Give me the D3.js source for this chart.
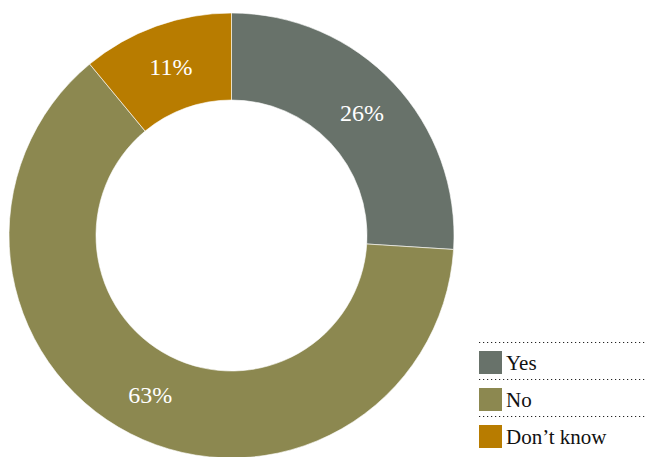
<!DOCTYPE html>
<html>
<head>
<meta charset="utf-8">
<script src="https://cdn.jsdelivr.net/npm/d3@7"></script>
<style>
  html, body { margin: 0; padding: 0; background: #fff; }
  svg { display: block; }
</style>
</head>
<body>
<svg id="chart" width="648" height="457"></svg>
<script>
// Survey answers and their shares (percent)
const categories = ["Yes", "No", "Don\u2019t know"];
const values = [26, 63, 11];
const colors = ["#68726a", "#8c8850", "#b87c00"];

const svg = d3.select("#chart");
const cx = 231.5, cy = 235.5;
const outerR = 222.5, innerR = 135.5;

const color = d3.scaleOrdinal().domain(categories).range(colors);

const pie = d3.pie().sort(null).value(d => d.value);
const arcs = pie(categories.map((c, i) => ({ cat: c, value: values[i] })));

const arc = d3.arc().innerRadius(innerR).outerRadius(outerR);

const g = svg.append("g").attr("transform", `translate(${cx},${cy})`);

g.selectAll("path.slice")
  .data(arcs)
  .join("path")
  .attr("class", "slice")
  .attr("d", arc)
  .attr("fill", d => color(d.data.cat))
  .attr("stroke", "#fff")
  .attr("stroke-width", 0.6);

g.selectAll("text.pct")
  .data(arcs)
  .join("text")
  .attr("class", "pct")
  .attr("transform", d => `translate(${arc.centroid(d)})`)
  .attr("text-anchor", "middle")
  .attr("dy", "0.33em")
  .attr("fill", "#fff")
  .style("font-family", "'Liberation Serif', 'DejaVu Serif', serif")
  .style("font-size", "24px")
  .text(d => d.data.value + "%");

// Legend with dotted separators
const legend = svg.append("g").attr("transform", "translate(479,342)");
const rowH = 37;

legend.selectAll("line.sep")
  .data(categories)
  .join("line")
  .attr("class", "sep")
  .attr("x1", 0).attr("x2", 168)
  .attr("y1", (d, i) => i * rowH + 0.5)
  .attr("y2", (d, i) => i * rowH + 0.5)
  .attr("stroke", "#222")
  .attr("stroke-width", 1.2)
  .attr("stroke-dasharray", "1.2,2.8");

const items = legend.selectAll("g.item")
  .data(categories)
  .join("g")
  .attr("class", "item")
  .attr("transform", (d, i) => `translate(0,${i * rowH + 9})`);

items.append("rect")
  .attr("width", 23).attr("height", 23)
  .attr("fill", d => color(d));

items.append("text")
  .attr("x", 27)
  .attr("y", 19)
  .attr("fill", "#111")
  .style("font-family", "'Liberation Serif', 'DejaVu Serif', serif")
  .style("font-size", "21px")
  .text(d => d);
</script>
</body>
</html>
